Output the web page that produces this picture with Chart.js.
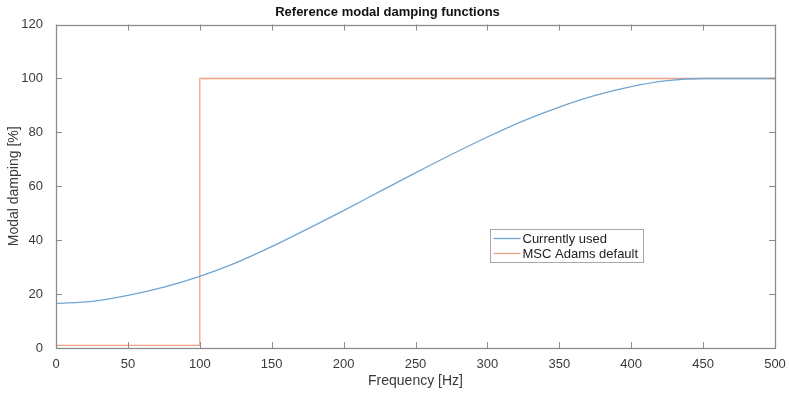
<!DOCTYPE html>
<html>
<head>
<meta charset="utf-8">
<script src="https://cdn.jsdelivr.net/npm/chart.js@4"></script>
<style>
  html, body { margin: 0; padding: 0; background: #fff; }
  #wrap { width: 789px; height: 394px; }
</style>
</head>
<body>
<div id="wrap"><canvas id="damping-chart" width="789" height="394"></canvas></div>
<script>
// frequency grid [Hz] and damping values
const freqHz = [0, 25, 50, 75, 100, 125, 150, 175, 200, 225, 250, 275, 300, 325, 350, 375, 400, 425, 450, 475, 500];
const currentlyUsed = [16.5, 17.3, 19.5, 22.6, 26.6, 31.6, 37.6, 44.2, 51.0, 58.0, 65.0, 71.8, 78.3, 84.3, 89.4, 93.7, 97.0, 99.2, 100, 100, 100];

// MSC Adams default is a step at 100 Hz
const adamsFreq = [0, 100, 100, 500];
const adamsDamping = [1, 1, 100, 100];

const xTicks = [0, 50, 100, 150, 200, 250, 300, 350, 400, 450, 500];
const yTicks = [0, 20, 40, 60, 80, 100, 120];

const blue = '#6fa6d3';
const orange = '#f2a184';
const axisGrey = '#8c8c8c';
const textGrey = '#3a3a3a';

// matlab-like box with inward ticks
const boxPlugin = {
    id: 'matlabBox',
    afterDatasetsDraw(chart) {
        const ctx = chart.ctx;
        const a = chart.chartArea;
        const sx = chart.scales.x;
        const sy = chart.scales.y;
        ctx.save();
        ctx.strokeStyle = axisGrey;
        ctx.lineWidth = 1;
        ctx.beginPath();
        xTicks.forEach(v => {
            let px = Math.round(sx.getPixelForValue(v)) + 0.5;
            ctx.moveTo(px, a.bottom);
            ctx.lineTo(px, a.bottom - 6);
            ctx.moveTo(px, a.top);
            ctx.lineTo(px, a.top + 6);
        });
        yTicks.forEach(v => {
            let py = Math.round(sy.getPixelForValue(v)) + 0.5;
            ctx.moveTo(a.left, py);
            ctx.lineTo(a.left + 6, py);
            ctx.moveTo(a.right, py);
            ctx.lineTo(a.right - 6, py);
        });
        ctx.stroke();
        ctx.lineWidth = 1.3;
        ctx.strokeRect(Math.round(a.left) + 0.5, Math.round(a.top) + 0.5, Math.round(a.right - a.left), Math.round(a.bottom - a.top));
        ctx.restore();
    }
};

// legend box placed inside the axes like matlab's
const legendPlugin = {
    id: 'insideLegend',
    afterDraw(chart) {
        const ctx = chart.ctx;
        const a = chart.chartArea;
        const w = a.right - a.left;
        const h = a.bottom - a.top;
        const bx = Math.round(a.left + w * 0.604) + 0.5;
        const by = Math.round(a.top + h * 0.632) + 0.5;
        const bw = 153;
        const bh = 33;
        ctx.save();
        ctx.fillStyle = '#fff';
        ctx.fillRect(bx, by, bw, bh);
        ctx.strokeStyle = '#a8a8a8';
        ctx.lineWidth = 1;
        ctx.strokeRect(bx, by, bw, bh);
        ctx.font = '13px "Liberation Sans", Arial, sans-serif';
        ctx.textBaseline = 'middle';
        chart.data.datasets.forEach((ds, i) => {
            let ry = by + 9 + i * 15;
            ctx.strokeStyle = ds.borderColor;
            ctx.lineWidth = 1.3;
            ctx.beginPath();
            ctx.moveTo(bx + 3, ry);
            ctx.lineTo(bx + 30, ry);
            ctx.stroke();
            ctx.fillStyle = '#222';
            ctx.fillText(ds.label, bx + 32, ry + 1);
        });
        ctx.restore();
    }
};

const chartData = {
    datasets: [
        {
            label: 'Currently used',
            data: freqHz.map((f, i) => ({x: f, y: currentlyUsed[i]})),
            borderColor: blue,
            borderWidth: 1.3,
            pointRadius: 0,
            cubicInterpolationMode: 'monotone',
            fill: false
        },
        {
            label: 'MSC Adams default',
            data: adamsFreq.map((f, i) => ({x: f, y: adamsDamping[i]})),
            borderColor: orange,
            borderWidth: 1.3,
            pointRadius: 0,
            tension: 0,
            fill: false
        }
    ]
};

const chartConfig = {
    type: 'line',
    data: chartData,
    options: {
        responsive: false,
        animation: false,
        layout: {
            padding: {left: 0, right: 14, top: 0, bottom: 0}
        },
        plugins: {
            legend: {display: false},
            tooltip: {enabled: false},
            title: {
                display: true,
                text: 'Reference modal damping functions',
                color: '#111',
                font: {family: '"Liberation Sans", Arial, sans-serif', size: 13, weight: 'bold'},
                padding: {top: 5, bottom: 4}
            }
        },
        scales: {
            x: {
                type: 'linear',
                min: 0,
                max: 500,
                afterBuildTicks: scale => {
                    scale.ticks = xTicks.map(v => ({value: v}));
                },
                afterFit: scale => {
                    scale.height = 46;
                },
                grid: {display: false},
                border: {display: false},
                ticks: {
                    color: textGrey,
                    padding: 1,
                    maxRotation: 0,
                    font: {family: '"Liberation Sans", Arial, sans-serif', size: 13}
                },
                title: {
                    display: true,
                    text: 'Frequency [Hz]',
                    color: textGrey,
                    padding: {top: 0},
                    font: {family: '"Liberation Sans", Arial, sans-serif', size: 14}
                }
            },
            y: {
                type: 'linear',
                min: 0,
                max: 120,
                afterBuildTicks: scale => {
                    scale.ticks = yTicks.map(v => ({value: v}));
                },
                afterFit: scale => {
                    scale.width = 56;
                },
                grid: {display: false},
                border: {display: false},
                ticks: {
                    color: textGrey,
                    padding: 5,
                    font: {family: '"Liberation Sans", Arial, sans-serif', size: 13}
                },
                title: {
                    display: true,
                    text: 'Modal damping [%]',
                    color: textGrey,
                    padding: {top: 6, bottom: 0},
                    font: {family: '"Liberation Sans", Arial, sans-serif', size: 14}
                }
            }
        }
    },
    plugins: [boxPlugin, legendPlugin]
};

new Chart(document.getElementById('damping-chart').getContext('2d'), chartConfig);
</script>
</body>
</html>
